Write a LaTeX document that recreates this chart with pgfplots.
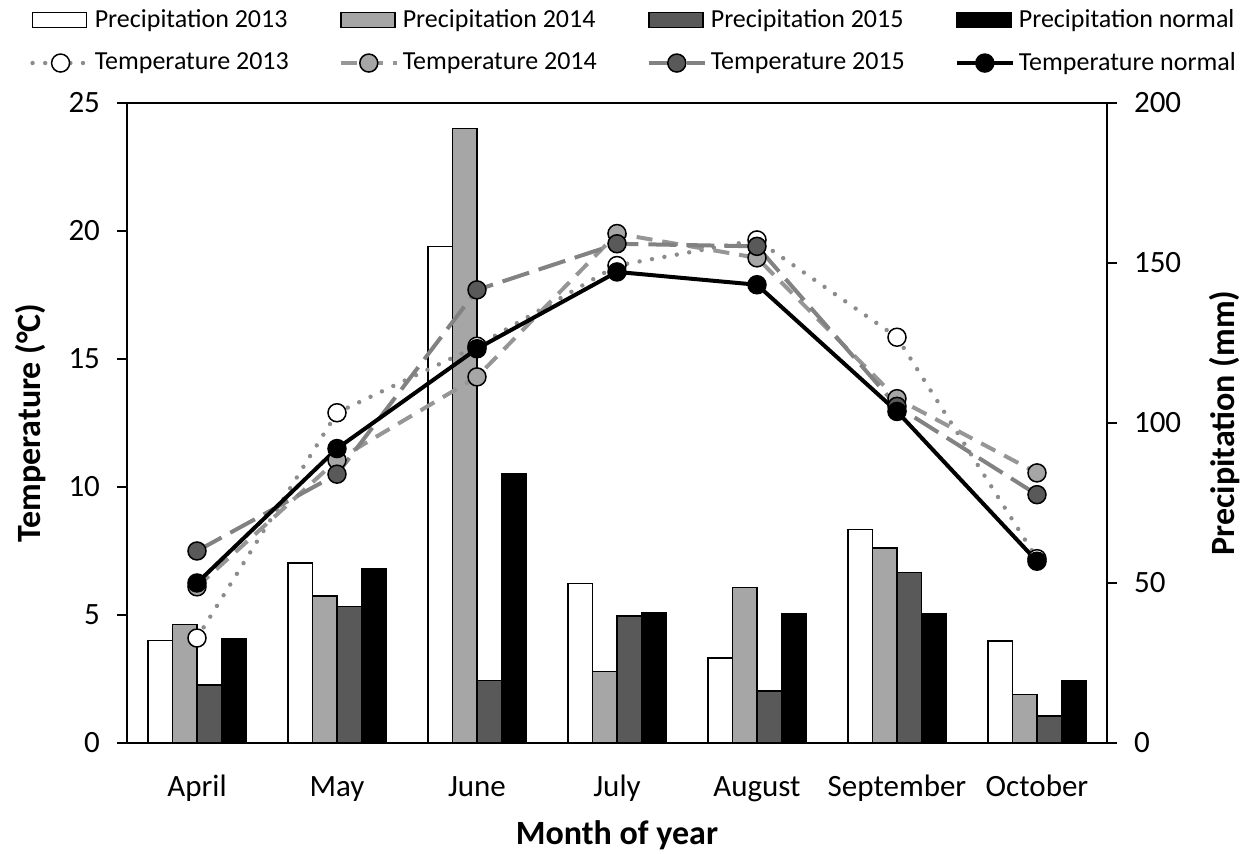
\documentclass[border=0pt]{standalone}
\usepackage{pgfplots}
\usepackage{pgfplotstable}
\pgfplotsset{compat=1.18}
\usepackage{fontspec}
\setmainfont{Carlito}
\definecolor{pLight}{HTML}{A6A6A6}
\definecolor{pDark}{HTML}{595959}
\definecolor{tGray}{HTML}{8C8C8C}
\definecolor{tGrayB}{HTML}{969696}
\definecolor{tGrayC}{HTML}{828282}

\pgfplotstableread{
m   p13    p14    p15   pn
0   32.1   37.0   18.1  32.6
1   56.3   45.9   42.7  54.5
2   155.2  192.1  19.6  84.2
3   49.9   22.3   39.7  40.6
4   26.6   48.6   16.3  40.4
5   66.7   61.0   53.2  40.4
6   31.9   15.1   8.4   19.6
}\precip
\pgfplotstableread{
m  t13    t14    t15    tn
0  4.1    6.1    7.5    6.25
1  12.9   11.05  10.5   11.5
2  15.5   14.3   17.7   15.4
3  18.65  19.9   19.5   18.4
4  19.65  18.95  19.4   17.9
5  15.85  13.45  13.15  12.95
6  7.2    10.55  9.7    7.1
}\temps

\pgfplotsset{
  barleg/.style={legend image code/.code={\draw[##1] (0pt,-3.75pt) rectangle (27pt,3.75pt);}},
  common/.style={
    scale only axis, width=490pt, height=320pt,
    xmin=-0.5, xmax=6.5, ymin=0,
    tick align=outside, major tick length=5pt,
    axis line style={line width=1pt},
    every tick/.append style={black, line width=1pt},
    tick label style={font=\fontsize{15.5}{18}\selectfont},
    label style={font=\fontsize{17}{20}\selectfont\bfseries},
    /pgf/number format/assume math mode=true,
  },
}

\begin{document}
\begin{tikzpicture}
\path[use as bounding box] (-63.5pt,-55.5pt) rectangle (561.5pt,371.5pt);

\begin{axis}[common,
  ymax=200, ytick={0,50,100,150,200},
  ytick pos=right, xtick=\empty,
  yticklabel style={xshift=5pt},
  ybar=0pt, bar width=12.2pt,
  ylabel={Precipitation (mm)},
  ylabel style={at={(axis description cs:1.12,0.5)}, anchor=center},
]
\addplot[fill=white, draw=black, line width=0.75pt] table[x=m,y=p13]{\precip};
\addplot[fill=pLight, draw=black, line width=0.75pt] table[x=m,y=p14]{\precip};
\addplot[fill=pDark, draw=black, line width=0.75pt] table[x=m,y=p15]{\precip};
\addplot[fill=black, draw=black, line width=0.75pt] table[x=m,y=pn]{\precip};
\end{axis}

\begin{axis}[common,
  ymax=25, ytick={0,5,10,15,20,25},
  ytick pos=left,
  xtick={0,1,2,3,4,5,6},
  xticklabels={April,May,June,July,August,September,October},
  xtick style={draw=none},
  xticklabel style={text height=11pt, text depth=3pt, yshift=-7pt},
  yticklabel style={xshift=-5pt},
  ylabel={Temperature (°C)},
  ylabel style={at={(axis description cs:-0.098,0.5)}, anchor=center},
  xlabel={Month of year},
  xlabel style={at={(axis description cs:0.5,-0.159)}, anchor=base},
  legend columns=4,
  legend cell align=left,
  legend image code/.code={\draw[mark repeat=2,mark phase=2,#1] plot coordinates {(0pt,0pt)(14pt,0pt)(28pt,0pt)};},
  legend style={draw=none, fill=none, inner sep=0pt,
    at={(axis description cs:-0.099,1.153)}, anchor=north west,
    /tikz/every even column/.append style={column sep=23pt},
    font=\fontsize{13}{15}\selectfont, row sep=7pt},
]
\addlegendimage{barleg, fill=white, draw=black, line width=0.75pt}
\addlegendimage{barleg, fill=pLight, draw=black, line width=0.75pt}
\addlegendimage{barleg, fill=pDark, draw=black, line width=0.75pt}
\addlegendimage{barleg, fill=black, draw=black, line width=0.75pt}

\addplot[tGray, line width=2.2pt, line cap=round, dash pattern=on 0pt off 6.3pt,
  mark=*, mark size=4.5pt, mark options={solid, fill=white, draw=black, line width=0.75pt}]
  table[x=m,y=t13]{\temps};
\addplot[tGrayB, line width=2pt, dash pattern=on 8pt off 5pt,
  mark=*, mark size=4.5pt, mark options={solid, fill=pLight, draw=black, line width=0.75pt}]
  table[x=m,y=t14]{\temps};
\addplot[tGrayC, line width=2pt, dash pattern=on 14pt off 5pt,
  mark=*, mark size=4.5pt, mark options={solid, fill=pDark, draw=black, line width=0.75pt}]
  table[x=m,y=t15]{\temps};
\addplot[black, line width=2pt,
  mark=*, mark size=4.5pt, mark options={solid, fill=black, draw=black, line width=0.75pt}]
  table[x=m,y=tn]{\temps};

\legend{Precipitation 2013, Precipitation 2014, Precipitation 2015, Precipitation normal,
  Temperature 2013, Temperature 2014, Temperature 2015, Temperature normal}
\end{axis}
\end{tikzpicture}
\end{document}
